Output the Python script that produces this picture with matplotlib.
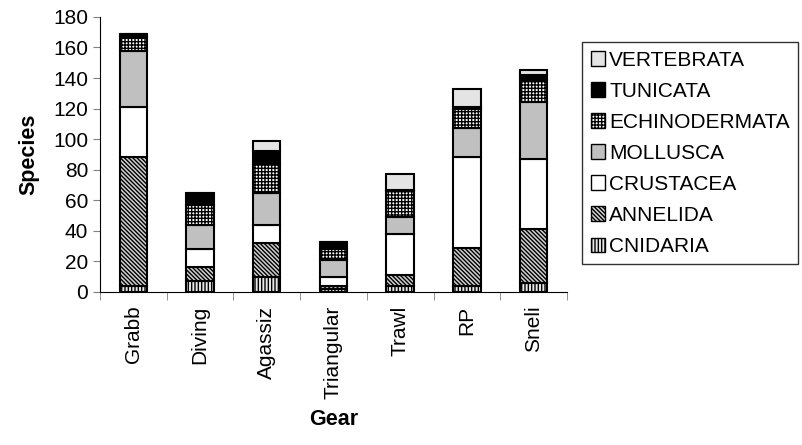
import numpy as np
import matplotlib
matplotlib.use('Agg')
import matplotlib.pyplot as plt
from matplotlib.patches import Patch

plt.rcParams['font.family'] = ['Liberation Sans', 'DejaVu Sans']
plt.rcParams['hatch.linewidth'] = 1.0

# données
gears = ['Grabb', 'Diving', 'Agassiz', 'Triangular', 'Trawl', 'RP', 'Sneli']
cnidaria = [4, 7, 10, 2, 4, 4, 6]
annelida = [84, 9, 22, 2, 7, 25, 35]
crustacea = [33, 12, 12, 6, 27, 59, 46]
mollusca = [37, 16, 21, 11, 11, 19, 37]
echinodermata = [9, 13, 19, 7, 17, 13, 15]
tunicata = [2, 8, 8, 5, 1, 1, 3]
vertebrata = [0, 0, 7, 0, 10, 12, 3]

groups = ['CNIDARIA', 'ANNELIDA', 'CRUSTACEA', 'MOLLUSCA',
          'ECHINODERMATA', 'TUNICATA', 'VERTEBRATA']
series = [cnidaria, annelida, crustacea, mollusca, echinodermata, tunicata, vertebrata]

# style de chaque groupe (couleur de fond, hachure)
styles = [('#e8e8e8', '|' * 5), ('#d0d0d0', '\\' * 8), ('white', None),
          ('#c0c0c0', None), ('white', '+' * 5), ('black', None), ('#e4e4e4', None)]

fig = plt.figure(figsize=(8.03, 4.45), dpi=100)
ax = fig.add_axes([0.1245, 0.344, 0.5815, 0.618])

x = np.arange(len(gears))
bottom = np.zeros(len(gears))
handles = []
for name, vals, (fc, h) in zip(groups, series, styles):
    vals = np.array(vals)
    ax.bar(x, vals, 0.41, bottom=bottom, color=fc, edgecolor='black',
           hatch=h, linewidth=1.5)
    bottom += vals
    handles.append(Patch(facecolor=fc, edgecolor='black', hatch=h, linewidth=1, label=name))

ax.set_xlim(-0.5, len(gears) - 0.5)
ax.set_ylim(0, 180)
ax.set_yticks(np.arange(0, 181, 20))
ax.set_xticks(x)
ax.set_xticklabels(gears, rotation=90, fontsize=15)
ax.set_xticks(np.arange(-0.5, len(gears)), minor=True)
ax.tick_params(axis='x', which='major', length=0, pad=10)
ax.tick_params(axis='x', which='minor', length=6, color='gray', direction='out')
ax.tick_params(axis='y', labelsize=15, length=5, color='gray', direction='out')
for s in ['top', 'right']:
    ax.spines[s].set_visible(False)

ax.set_ylabel('Species', fontsize=15.5, fontweight='bold', labelpad=10)
ax.set_xlabel('Gear', fontsize=15.5, fontweight='bold', labelpad=7)

leg = fig.legend(handles=handles[::-1], loc='upper left',
                 bbox_to_anchor=(0.725, 0.905), fontsize=15, frameon=True,
                 fancybox=False, edgecolor='black', handlelength=0.7,
                 handleheight=0.7, handletextpad=0.2, labelspacing=0.58,
                 borderpad=0.4, borderaxespad=0)
leg.get_frame().set_linewidth(1)

plt.savefig('out.png', dpi=100)
